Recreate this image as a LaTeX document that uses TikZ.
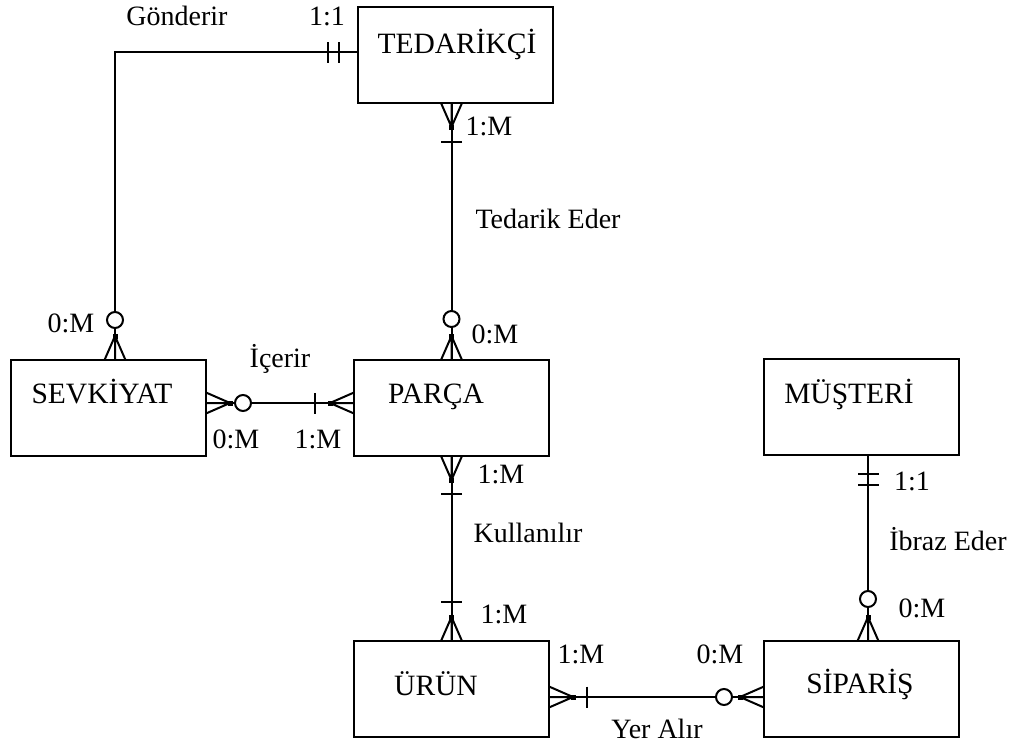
\documentclass[tikz,border=0pt]{standalone}
\usepackage{fontspec}
\setmainfont{Liberation Serif}
\begin{document}
\begin{tikzpicture}[x=1pt,y=-1pt,
  every node/.style={font=\fontsize{28}{32}\selectfont},
  entity/.style={draw, line width=2pt, minimum width=195pt, minimum height=96pt, inner sep=0pt, outer sep=0pt},
  lbl/.style={anchor=base, inner sep=0pt},
  ename/.style={lbl, font=\fontsize{29.5}{33}\selectfont},
  rel/.style={line width=2pt},
  % crow's foot: feet on the entity edge, apex 24pt out along the line
  pics/many/.style={code={
    \draw[rel] (0,-10.5) -- (24,0) -- (0,10.5) (0,0) -- (24,0);
    \fill (21.5,-2.5) rectangle (26.5,2.5);}},
  % single cross bar at a given distance from the edge
  pics/bar/.style={code={\draw[rel] (#1,-10.5) -- (#1,10.5);}},
  % hollow circle (optional) at a given distance from the edge
  pics/ring/.style={code={\draw[rel,fill=white] (#1,0) circle[radius=8];}}
]
\useasboundingbox (0,0) rectangle (1022,745);

% entities
\node[entity] (tedarikci) at (455,55) {};
\node[entity] (sevkiyat) at (108.5,408) {};
\node[entity] (parca) at (451.5,408) {};
\node[entity] (musteri) at (861,406.5) {};
\node[entity] (urun) at (451.5,689) {};
\node[entity] (siparis) at (861.5,689) {};

\node[ename] (n-tedarikci) at (457,53) {TEDARİKÇİ};
\node[ename] (n-sevkiyat) at (102,403) {SEVKİYAT};
\node[ename] (n-parca) at (436,403) {PARÇA};
\node[ename] (n-musteri) at (849,403) {MÜŞTERİ};
\node[ename] (n-urun) at (436,695) {ÜRÜN};
\node[ename] (n-siparis) at (860,693) {SİPARİŞ};

% attachment points of the relationship lines
\coordinate (g1) at ([yshift=3pt]tedarikci.west);
\coordinate (g2) at ([xshift=6.5pt]sevkiyat.north);
\coordinate (t1) at (tedarikci.south -| parca.north);
\coordinate (t2) at (parca.north);
\coordinate (c1) at ([yshift=5pt]sevkiyat.east);
\coordinate (c2) at ([yshift=5pt]parca.west);
\coordinate (k1) at (parca.south);
\coordinate (k2) at (urun.north);
\coordinate (y1) at ([yshift=-8pt]urun.east);
\coordinate (y2) at ([yshift=-8pt]siparis.west);
\coordinate (i1) at ([xshift=7pt]musteri.south);
\coordinate (i2) at (i1 |- siparis.north);

% relationship lines
\draw[rel] (g1) -| (g2);
\draw[rel] (t1) -- (t2);
\draw[rel] (c1) -- (c2);
\draw[rel] (k1) -- (k2);
\draw[rel] (y1) -- (y2);
\draw[rel] (i1) -- (i2);

% Gönderir
\pic[rotate=180] at (g1) {bar=19};
\pic[rotate=180] at (g1) {bar=30};
\pic[rotate=90] at (g2) {many};
\pic[rotate=90] at (g2) {ring=40};
% Tedarik Eder
\pic[rotate=-90] at (t1) {many};
\pic[rotate=-90] at (t1) {bar=39};
\pic[rotate=90] at (t2) {many};
\pic[rotate=90] at (t2) {ring=41};
% İçerir
\pic at (c1) {many};
\pic at (c1) {ring=37};
\pic[rotate=180] at (c2) {many};
\pic[rotate=180] at (c2) {bar=39};
% Kullanılır
\pic[rotate=-90] at (k1) {many};
\pic[rotate=-90] at (k1) {bar=38};
\pic[rotate=90] at (k2) {many};
\pic[rotate=90] at (k2) {bar=39};
% Yer Alır
\pic at (y1) {many};
\pic at (y1) {bar=38};
\pic[rotate=180] at (y2) {many};
\pic[rotate=180] at (y2) {ring=40};
% İbraz Eder
\pic[rotate=-90] at (i1) {bar=19};
\pic[rotate=-90] at (i1) {bar=30};
\pic[rotate=90] at (i2) {many};
\pic[rotate=90] at (i2) {ring=42};

% relationship names
\node[lbl] (r-gonderir) at (177,25) {Gönderir};
\node[lbl] (r-tedarik) at (548,228) {Tedarik Eder};
\node[lbl] (r-icerir) at (280,367) {İçerir};
\node[lbl] (r-kullanilir) at (528,542) {Kullanılır};
\node[lbl] (r-yeralir) at (657,738) {Yer Alır};
\node[lbl] (r-ibraz) at (948,550) {İbraz Eder};

% cardinalities
\node[lbl] (m-g1) at (327,25) {1:1};
\node[lbl] (m-g2) at (71,332) {0:M};
\node[lbl] (m-t1) at (489,135) {1:M};
\node[lbl] (m-t2) at (495,343) {0:M};
\node[lbl] (m-c1) at (236,448) {0:M};
\node[lbl] (m-c2) at (318,448) {1:M};
\node[lbl] (m-k1) at (501,483) {1:M};
\node[lbl] (m-k2) at (504,623) {1:M};
\node[lbl] (m-y1) at (581,663) {1:M};
\node[lbl] (m-y2) at (720,663) {0:M};
\node[lbl] (m-i1) at (912,490) {1:1};
\node[lbl] (m-i2) at (922,617) {0:M};
\end{tikzpicture}
\end{document}
